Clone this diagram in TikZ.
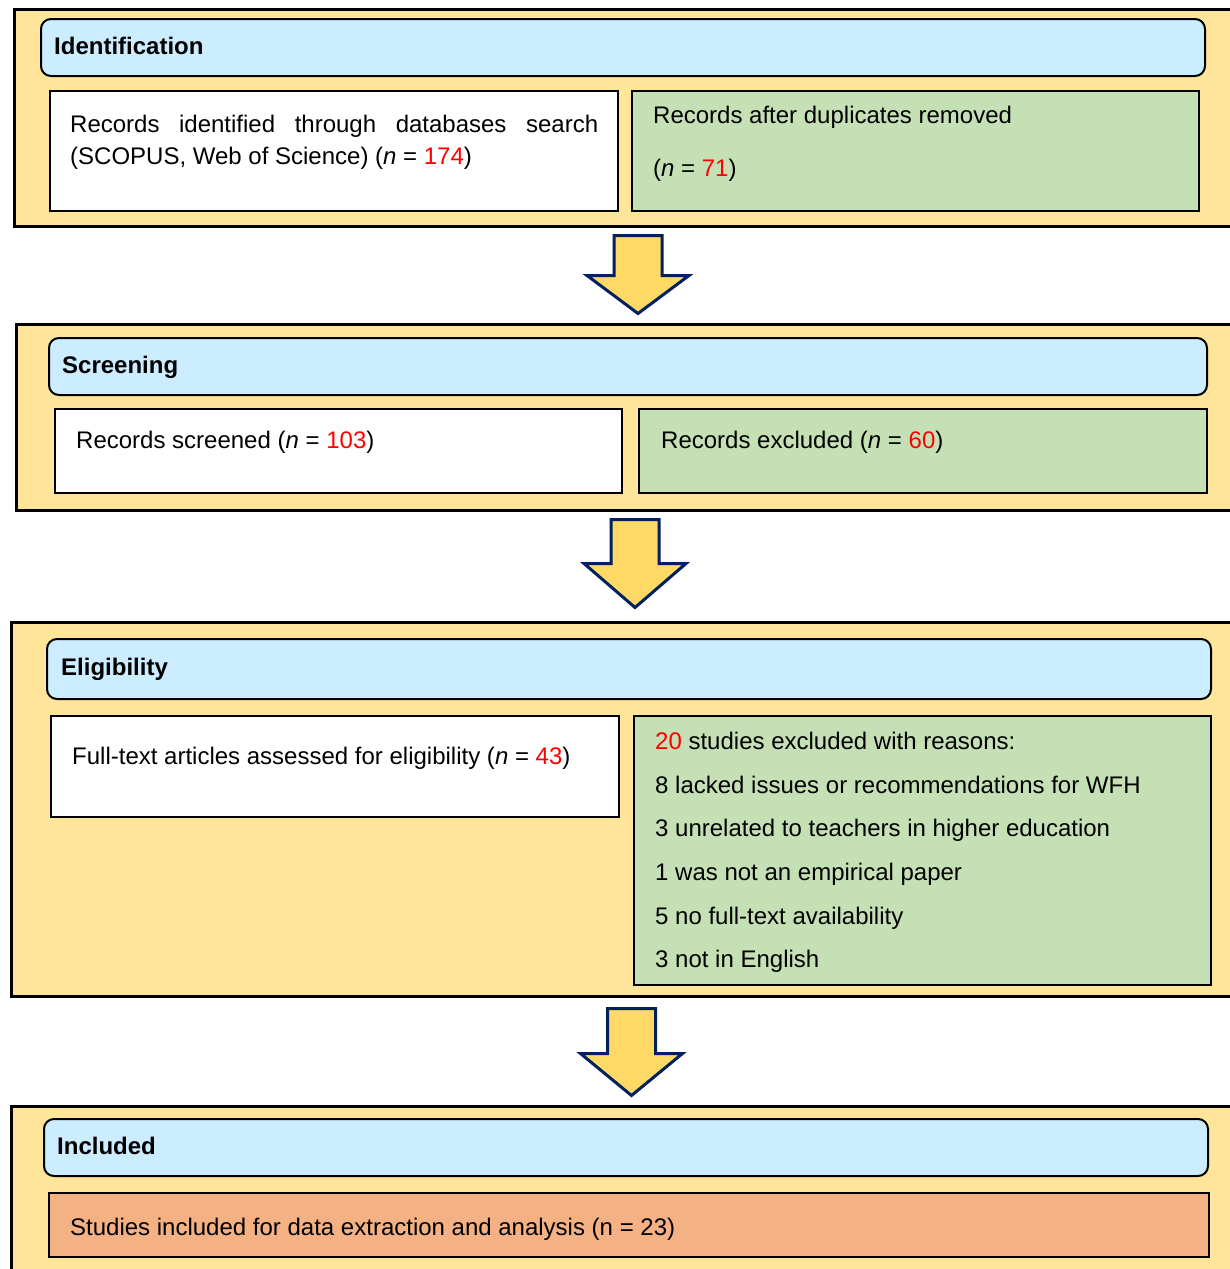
\documentclass[tikz,border=0pt]{standalone}
\usepackage{fontspec}
\setmainfont{Liberation Sans}
\usetikzlibrary{calc}
\definecolor{panelyellow}{HTML}{FFE599}
\definecolor{headblue}{HTML}{CCECFF}
\definecolor{boxgreen}{HTML}{C5E0B4}
\definecolor{boxorange}{HTML}{F4B183}
\definecolor{arrowfill}{HTML}{FFD966}
\definecolor{arrowline}{HTML}{002060}
\tikzset{
    panel/.style={draw=black,line width=3pt,fill=panelyellow},
    header/.style={draw=black,line width=2pt,fill=headblue,rounded corners=10pt},
    whitebox/.style={draw=black,line width=2.5pt,fill=white},
    greenbox/.style={draw=black,line width=2.5pt,fill=boxgreen},
    orangebox/.style={draw=black,line width=2.5pt,fill=boxorange},
    blockarrow/.style={draw=arrowline,line width=3pt,fill=arrowfill,line join=miter},
    txt/.style={inner sep=0pt,font=\fontsize{24}{32}\selectfont},
    headtxt/.style={inner sep=0pt,font=\fontsize{24}{32}\selectfont\bfseries,anchor=base west}
}
\newcommand{\nn}[1]{(\textit{n} = \textcolor{red}{#1})}

\begin{document}
\begin{tikzpicture}[x=1pt,y=-1pt]
  \useasboundingbox (0,0) rectangle (1229,1269);
  % panels
  \draw[panel] (14.5,9.5) rectangle (1240,226.5);
  \draw[panel] (16.5,324.5) rectangle (1240,510.5);
  \draw[panel] (11.5,622.5) rectangle (1240,996.5);
  \draw[panel] (11.5,1106.5) rectangle (1240,1290);
  % headers
  \draw[header] (41,19) rectangle (1205,76);
  \draw[header] (49,338) rectangle (1207,395);
  \draw[header] (47,639) rectangle (1211,699);
  \draw[header] (44,1119) rectangle (1208,1176);
  \node[headtxt] (idhead) at (54,54.5) {Identification};
  \node[headtxt] (scrhead) at (62,373) {Screening};
  \node[headtxt] (elihead) at (61,675.5) {Eligibility};
  \node[headtxt] (inchead) at (57,1154.5) {Included};
  % boxes
  \draw[whitebox] (50,91) rectangle (618,211);
  \draw[greenbox] (632,91) rectangle (1199,211);
  \draw[whitebox] (55,409) rectangle (622,493);
  \draw[greenbox] (639,409) rectangle (1207,493);
  \draw[whitebox] (51,716) rectangle (619,817);
  \draw[greenbox] (634,716) rectangle (1211,985);
  \draw[orangebox] (49,1193) rectangle (1209,1257);
  % texts
  \node[txt,anchor=north west,text width=528pt,align=justify] (ident) at (70,115)
    {Records identified through databases search (SCOPUS, Web of Science) \nn{174}};
  \node[txt,anchor=north west,align=left] (dupl) at (653,106)
    {Records after duplicates removed\\[21pt]\nn{71}};
  \node[txt,anchor=base west] (scr) at (76,448.5) {Records screened \nn{103}};
  \node[txt,anchor=base west] (excl) at (661,448.5) {Records excluded \nn{60}};
  \node[txt,anchor=base west] (full) at (72,764.5) {Full-text articles assessed for eligibility \nn{43}};
  \node[txt,anchor=north west,align=left,font=\fontsize{24}{43.6}\selectfont] (reasons) at (655,732)
    {\textcolor{red}{20} studies excluded with reasons:\\
     8 lacked issues or recommendations for WFH\\
     3 unrelated to teachers in higher education\\
     1 was not an empirical paper\\
     5 no full-text availability\\
     3 not in English};
  \node[txt,anchor=base west] (incl) at (70,1235.5) {Studies included for data extraction and analysis (n = 23)};
  % block arrows
  \foreach \cx/\t/\s/\p in {638/235.5/275.5/313.5, 635/519.5/563.5/607.5, 631.5/1008.5/1053.5/1095.5}{
    \draw[blockarrow] (\cx-24,\t) -- (\cx+24,\t) -- (\cx+24,\s) -- (\cx+51,\s)
      -- (\cx,\p) -- (\cx-51,\s) -- (\cx-24,\s) -- cycle;
  }
\end{tikzpicture}
\end{document}
